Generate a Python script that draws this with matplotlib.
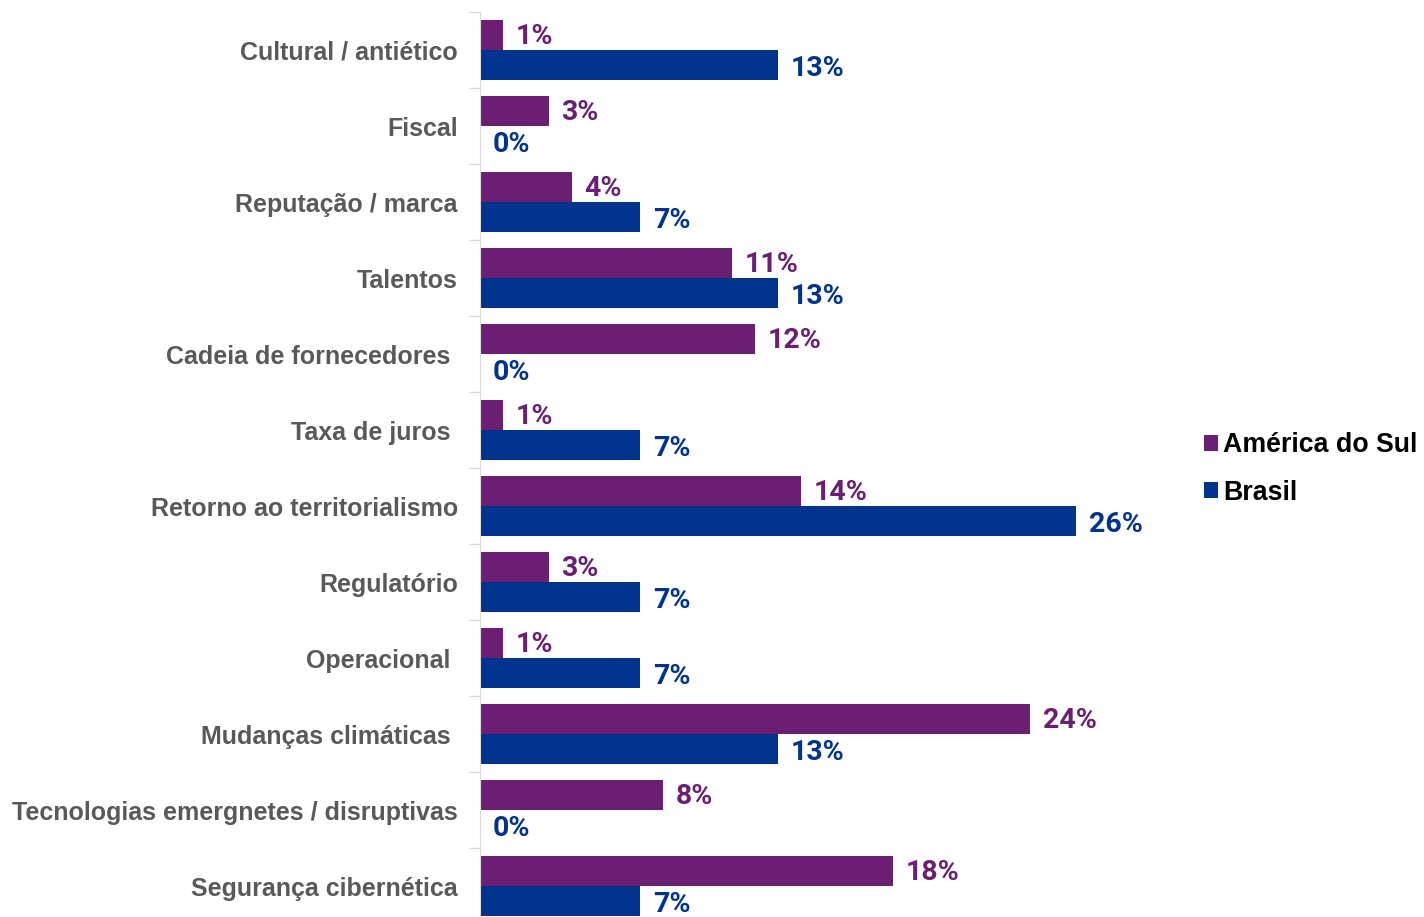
import numpy as np
import matplotlib.pyplot as plt

# categorieen en waarden (%)
categorias = ['Cultural / antiético', 'Fiscal', 'Reputação / marca', 'Talentos',
              'Cadeia de fornecedores ', 'Taxa de juros ', 'Retorno ao territorialismo',
              'Regulatório', 'Operacional ', 'Mudanças climáticas ',
              'Tecnologias emergnetes / disruptivas', 'Segurança cibernética']
america_do_sul = [1, 3, 4, 11, 12, 1, 14, 3, 1, 24, 8, 18]
brasil = [13, 0, 7, 13, 0, 7, 26, 7, 7, 13, 0, 7]

roxo = '#6B1F73'
azul = '#00338D'
cinza = '#595959'

fig = plt.figure(figsize=(14.24, 9.17), dpi=100)
ax = fig.add_axes([480 / 1424, -7 / 917, 917 / 1424, 912 / 917])

y = np.arange(len(categorias))
h = 0.395
ax.barh(y - h / 2, america_do_sul, height=h, color=roxo, label='América do Sul')
ax.barh(y + h / 2, brasil, height=h, color=azul, label='Brasil')

for i in range(len(categorias)):
    ax.text(america_do_sul[i] + 0.55, y[i] - h / 2 + 0.02, f'{america_do_sul[i]}%', color=roxo,
            fontsize=20.5, fontweight='bold', family='Roboto', va='center', ha='left')
    ax.text(brasil[i] + 0.55, y[i] + h / 2 + 0.04, f'{brasil[i]}%', color=azul,
            fontsize=20.5, fontweight='bold', family='Roboto', va='center', ha='left')

ax.set_xlim(0, 40)
ax.set_ylim(len(categorias) - 0.5, -0.5)
ax.set_yticks(y)
ax.set_yticklabels(categorias, fontsize=18, fontweight='bold', color=cinza,
                   family='Liberation Sans')
ax.tick_params(axis='y', which='major', length=0, pad=16)
ax.set_yticks(np.arange(len(categorias) + 1) - 0.5, minor=True)
ax.tick_params(axis='y', which='minor', length=8, color='#D9D9D9', width=1)
ax.set_xticks([])
for s in ['top', 'right', 'bottom']:
    ax.spines[s].set_visible(False)
ax.spines['left'].set_color('#D9D9D9')

leg = fig.legend(loc='center left', bbox_to_anchor=(1204 / 1424, 1 - 469 / 917),
                 frameon=False, handlelength=0.52, handleheight=0.52, handletextpad=0.2,
                 borderpad=0, borderaxespad=0, labelspacing=0.8,
                 prop={'family': 'Liberation Sans', 'weight': 'bold', 'size': 19.3})

fig.savefig('out.png', dpi=100)
